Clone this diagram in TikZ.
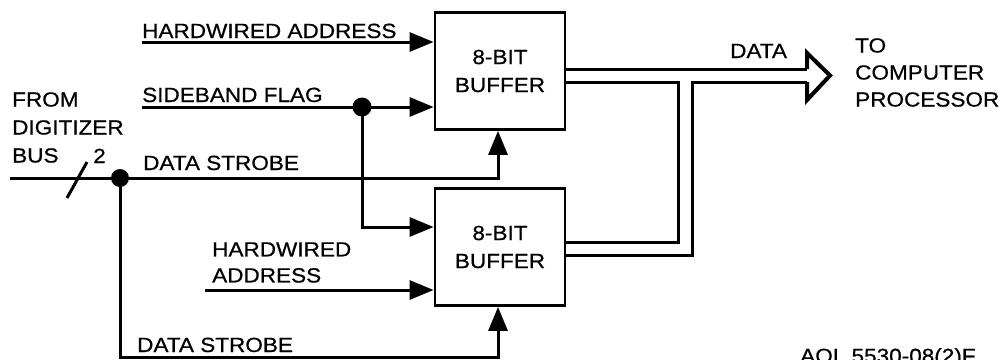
\documentclass[tikz,border=0pt]{standalone}
\usepackage{fontspec}
\setmainfont[FakeStretch=1.1,FakeBold=0.6]{Liberation Sans}
\usetikzlibrary{arrows.meta}
\begin{document}
\begin{tikzpicture}[x=1pt,y=-1pt,
  wire/.style={line width=3pt},
  arr/.style={wire,-{Triangle[length=24pt,width=19pt]}},
  lbl/.style={inner sep=0pt,font=\fontsize{20.5}{28}\selectfont},
  buffer/.style={draw,line width=2.8pt,minimum width=130pt,minimum height=117pt,
    align=center,inner sep=0pt,font=\fontsize{20.5}{28}\selectfont},
  dot/.style={fill=black}]
\fill[white] (0,0) rectangle (1008,359);
\useasboundingbox (0,0) rectangle (1008,359);

% buffers
\node[buffer] (b1) at (500,71) {8-BIT\\BUFFER};
\node[buffer] (b2) at (500,247) {8-BIT\\BUFFER};

% inputs of top buffer
\coordinate (ha1) at (142,42);
\draw[arr] (ha1) -- (ha1 -| b1.west);
\coordinate (sf) at (142,107);
\coordinate (j1) at (362,107);
\draw[arr] (sf) -- (sf -| b1.west);
\fill[dot] (j1) circle (9.5);
\coordinate (j1b) at (362,227);
\draw[arr] (j1) -- (j1b) -- (j1b -| b2.west);

\coordinate (bus) at (10,178);
\coordinate (s1) at (498,178);
\draw[arr] (bus) -- (s1) -- (s1 |- b1.south);
\coordinate (j2) at (120,178);
\fill[dot] (j2) circle (9);
\coordinate (c2) at (120,357);
\coordinate (s2) at (498,357);
\draw[arr] (j2) -- (c2) -- (s2) -- (s2 |- b2.south);

\coordinate (ha2) at (205,290);
\draw[arr] (ha2) -- (ha2 -| b2.west);

% bus slash
\coordinate (sl1) at (67,198);
\coordinate (sl2) at (87,162);
\draw[wire] (sl1) -- (sl2);

% output data bus
\coordinate (o1) at (807,69);
\coordinate (o2) at (807,82);
\coordinate (in1) at (678,82);
\coordinate (in2) at (678,242);
\coordinate (ou1) at (692,82);
\coordinate (ou2) at (692,255);
\draw[wire] (b1.east |- o1) -- (o1);
\draw[wire] (b1.east |- in1) -- (in1) -- (in2) -- (b2.east |- in2);
\draw[wire] (o2) -- (ou1) -- (ou2) -- (b2.east |- ou2);
\coordinate (ah1) at (807,53);
\coordinate (ahtip) at (830,75.5);
\coordinate (ah2) at (807,100);
\draw[line width=4pt,line join=miter] (o1) -- (ah1) -- (ahtip) -- (ah2) -- (o2);

% labels
\node[lbl,anchor=base west] (tha1) at (142,38) {HARDWIRED ADDRESS};
\node[lbl,anchor=base west] (tsf) at (142,102) {SIDEBAND FLAG};
\node[lbl,anchor=base west] (tds1) at (143,170) {DATA STROBE};
\node[lbl,anchor=west,align=left] (tfrom) at (12,127.5) {FROM\\DIGITIZER\\BUS};
\node[lbl,anchor=base west] (ttwo) at (93,163) {2};
\node[lbl,anchor=west,align=left,font=\fontsize{20.5}{26}\selectfont] (tha2) at (212,262.5) {HARDWIRED\\ADDRESS};
\node[lbl,anchor=base west] (tds2) at (137,352) {DATA STROBE};
\node[lbl,anchor=base west] (tdata) at (730,58) {DATA};
\node[lbl,anchor=west,align=left,font=\fontsize{20.5}{27}\selectfont] (tto) at (855,72.5) {TO\\COMPUTER\\PROCESSOR};
\node[lbl,anchor=base west] (tid) at (800,363) {AOL 5530-08(2)F};
\end{tikzpicture}
\end{document}
